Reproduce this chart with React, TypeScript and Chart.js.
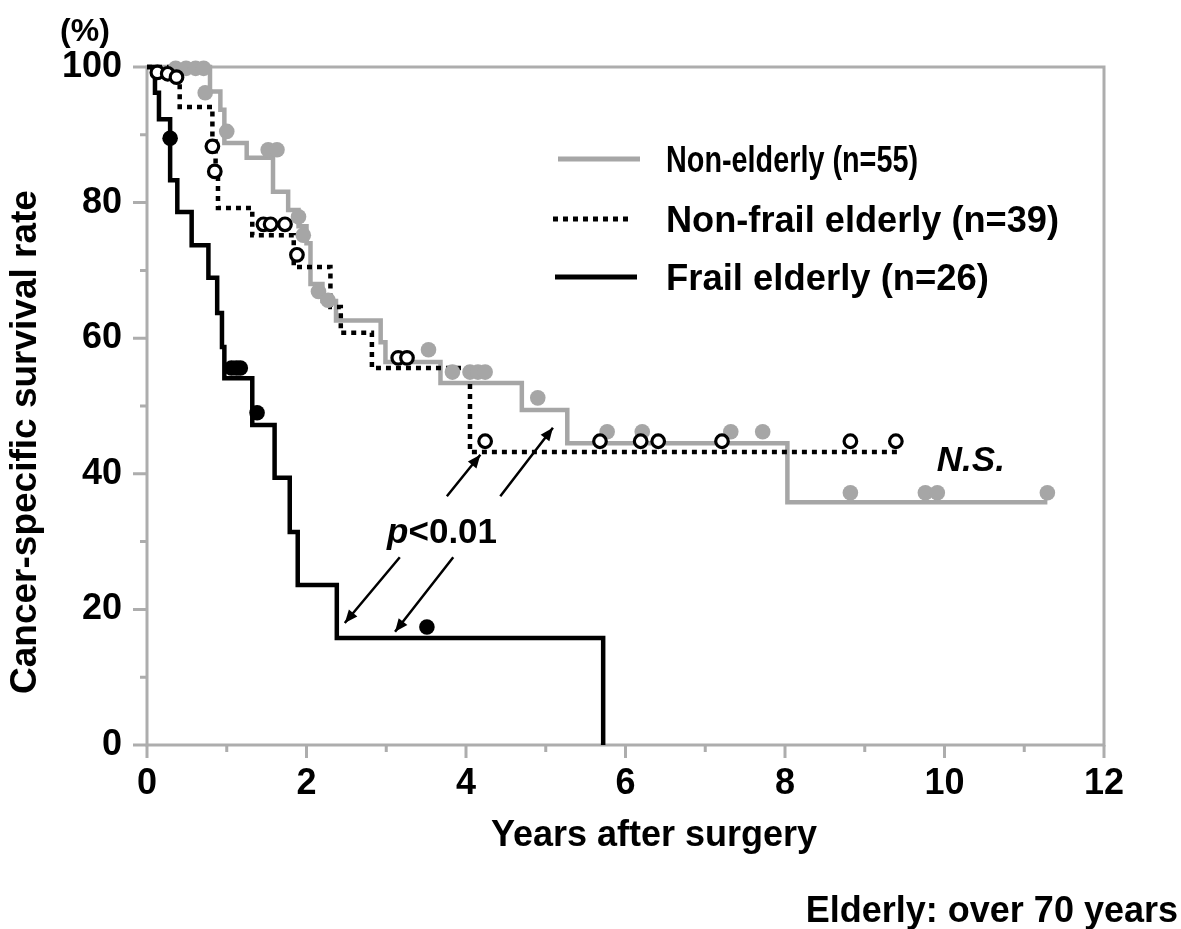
import React, { useEffect, useRef } from "react";
import { Chart, registerables } from "chart.js";

Chart.register(...registerables);

const FONT_FAMILY = '"Liberation Sans", Arial, Helvetica, sans-serif';
const GRAY = "#a6a6a6";
const FRAME = "#adadad";

// ---- Kaplan-Meier step curves (time in years, survival %) ----
const nonElderlyTimes = [0, 0.79, 0.92, 0.97, 1.25, 1.58, 1.77, 1.9, 2.0, 2.05, 2.2, 2.37, 2.93, 2.99, 3.68, 4.7, 5.27, 8.03, 11.29];
const nonElderlySurv = [100, 96.4, 93.7, 88.8, 86.6, 81.6, 78.9, 76.5, 74, 68, 65.5, 62.6, 59.4, 56.5, 53.4, 49.4, 44.5, 35.8, 35.8];

const nonFrailTimes = [0, 0.41, 0.82, 0.86, 0.89, 1.32, 1.84, 2.3, 2.43, 2.82, 4.05, 9.41];
const nonFrailSurv = [100, 94.1, 89, 84, 79.2, 75.2, 70.5, 64.6, 60.8, 55.6, 43.2, 43.2];

const frailTimes = [0, 0.1, 0.15, 0.29, 0.38, 0.56, 0.77, 0.88, 0.94, 0.97, 1.32, 1.6, 1.79, 1.89, 2.38, 5.72];
const frailSurv = [100, 96.2, 92.3, 83.3, 78.6, 73.7, 68.9, 63.7, 58.7, 54.1, 47.2, 39.4, 31.4, 23.6, 15.8, 0];

// ---- Censor marks ----
const nonElderlyCensorT = [0.36, 0.49, 0.61, 0.71, 0.73, 1.0, 1.52, 1.63, 1.9, 1.96, 2.15, 2.27, 3.53, 3.83, 4.05, 4.15, 4.24, 4.9, 5.77, 6.21, 7.32, 7.72, 8.82, 9.76, 9.91, 11.29];
const nonElderlyCensorS = [99.8, 99.8, 99.8, 99.8, 96.2, 90.5, 87.8, 87.8, 77.9, 75.2, 66.9, 65.6, 58.3, 55, 55, 55, 55, 51.2, 46.2, 46.2, 46.2, 46.2, 37.2, 37.2, 37.2, 37.2];

const nonFrailCensorT = [0.13, 0.26, 0.37, 0.82, 0.85, 1.46, 1.55, 1.73, 1.88, 3.15, 3.26, 4.24, 5.68, 6.19, 6.41, 7.21, 8.82, 9.39];
const nonFrailCensorS = [99.2, 99, 98.5, 88.3, 84.6, 76.8, 76.8, 76.8, 72.3, 57.1, 57.1, 44.8, 44.8, 44.8, 44.8, 44.8, 44.8, 44.8];

const frailCensorT = [0.29, 1.06, 1.12, 1.17, 1.38, 3.51];
const frailCensorS = [89.5, 55.6, 55.6, 55.6, 49, 17.4];

// ---- Axes ----
const xTickValues = [0, 2, 4, 6, 8, 10, 12];
const yTickValues = [0, 20, 40, 60, 80, 100];
const xMinorTicks = [1, 3, 5, 7, 9, 11];
const yMinorTicks = [10, 30, 50, 70, 90];

// ---- Labels ----
const legendLabels = ["Non-elderly (n=55)", "Non-frail elderly (n=39)", "Frail elderly (n=26)"];
const xTitle = "Years after surgery";
const yTitle = "Cancer-specific survival rate";
const unitLabel = "(%)";
const footnote = "Elderly: over 70 years";
const pLabelItalic = "p";
const pLabelRest = "<0.01";
const nsLabel = "N.S.";

// annotation anchor points in data units (t, %)
const pLabelPos = [3.7, 31.6];
const nsLabelPos = [10.33, 42.2];
// arrows: [tipLowerT, tipLowerS, gapLowerT, gapLowerS, gapUpperT, gapUpperS, tipUpperT, tipUpperS]
const arrowA = [2.48, 18.0, 3.17, 27.7, 3.76, 36.7, 4.18, 42.8];
const arrowB = [3.11, 16.7, 3.84, 27.7, 4.43, 36.7, 5.09, 46.8];

const toXY = (ts: number[], ss: number[]) => ts.map((t, i) => ({ x: t, y: ss[i] }));

function font(size: number, style = "bold") {
  return `${style} ${size}px ${FONT_FAMILY}`;
}

function drawArrowHead(ctx: CanvasRenderingContext2D, fx: number, fy: number, tx: number, ty: number) {
  const ang = Math.atan2(ty - fy, tx - fx);
  const len = 13;
  const hw = 5.5;
  ctx.beginPath();
  ctx.moveTo(tx, ty);
  ctx.lineTo(tx - len * Math.cos(ang) + hw * Math.sin(ang), ty - len * Math.sin(ang) - hw * Math.cos(ang));
  ctx.lineTo(tx - len * Math.cos(ang) - hw * Math.sin(ang), ty - len * Math.sin(ang) + hw * Math.cos(ang));
  ctx.closePath();
  ctx.fill();
}

function drawSplitArrow(ctx: CanvasRenderingContext2D, xs: any, ys: any, a: number[]) {
  const p = [0, 2, 4, 6].map((i) => [xs.getPixelForValue(a[i]), ys.getPixelForValue(a[i + 1])]);
  ctx.save();
  ctx.strokeStyle = "#000";
  ctx.fillStyle = "#000";
  ctx.lineWidth = 2.5;
  ctx.beginPath();
  ctx.moveTo(p[1][0], p[1][1]);
  ctx.lineTo(p[0][0], p[0][1]);
  ctx.moveTo(p[2][0], p[2][1]);
  ctx.lineTo(p[3][0], p[3][1]);
  ctx.stroke();
  drawArrowHead(ctx, p[1][0], p[1][1], p[0][0], p[0][1]);
  drawArrowHead(ctx, p[2][0], p[2][1], p[3][0], p[3][1]);
  ctx.restore();
}

export default function App() {
  const ref = useRef<HTMLCanvasElement>(null);

  useEffect(() => {
    const canvas = ref.current;
    if (!canvas) return;

    const decor = {
      id: "decor",
      beforeDatasetsDraw(chart: any) {
        const { ctx, chartArea } = chart;
        const xs = chart.scales.x;
        const ys = chart.scales.y;
        ctx.save();
        ctx.strokeStyle = FRAME;
        ctx.lineWidth = 3;
        ctx.strokeRect(chartArea.left, chartArea.top, chartArea.right - chartArea.left, chartArea.bottom - chartArea.top);
        ctx.beginPath();
        xTickValues.forEach((v) => {
          const x = xs.getPixelForValue(v);
          ctx.moveTo(x, chartArea.bottom);
          ctx.lineTo(x, chartArea.bottom + 13);
        });
        xMinorTicks.forEach((v) => {
          const x = xs.getPixelForValue(v);
          ctx.moveTo(x, chartArea.bottom);
          ctx.lineTo(x, chartArea.bottom + 7);
        });
        yTickValues.forEach((v) => {
          const y = ys.getPixelForValue(v);
          ctx.moveTo(chartArea.left, y);
          ctx.lineTo(chartArea.left - 14, y);
        });
        yMinorTicks.forEach((v) => {
          const y = ys.getPixelForValue(v);
          ctx.moveTo(chartArea.left, y);
          ctx.lineTo(chartArea.left - 7, y);
        });
        ctx.stroke();
        ctx.restore();
      },
      afterDraw(chart: any) {
        const { ctx } = chart;
        const xs = chart.scales.x;
        const ys = chart.scales.y;
        ctx.save();
        ctx.fillStyle = "#000";
        ctx.textBaseline = "alphabetic";

        // axis titles
        ctx.font = font(36);
        ctx.textAlign = "center";
        ctx.fillText(xTitle, 654, 846);

        ctx.save();
        ctx.translate(36, 442);
        ctx.rotate(-Math.PI / 2);
        ctx.font = font(37);
        ctx.textAlign = "center";
        ctx.fillText(yTitle, 0, 0);
        ctx.restore();

        ctx.font = font(32);
        ctx.textAlign = "center";
        ctx.fillText(unitLabel, 85, 41);

        ctx.font = font(36);
        ctx.textAlign = "right";
        ctx.fillText(footnote, 1178, 922);

        // legend
        const rows = [
          { y: 159, base: 172, color: GRAY, dash: [] as number[], x1: 558, x2: 640, width: 252 },
          { y: 219, base: 232, color: "#000", dash: [5, 5], x1: 553, x2: 632, width: 393 },
          { y: 277, base: 290, color: "#000", dash: [] as number[], x1: 555, x2: 637, width: 323 },
        ];
        rows.forEach((r, i) => {
          ctx.save();
          ctx.strokeStyle = r.color;
          ctx.lineWidth = 5;
          ctx.lineCap = "butt";
          ctx.setLineDash(r.dash);
          ctx.beginPath();
          ctx.moveTo(r.x1, r.y);
          ctx.lineTo(r.x2, r.y);
          ctx.stroke();
          ctx.restore();
          ctx.save();
          ctx.font = font(36);
          ctx.textAlign = "left";
          const w = ctx.measureText(legendLabels[i]).width;
          const sx = r.width / w;
          ctx.translate(666, r.base);
          ctx.scale(sx, 1);
          ctx.fillText(legendLabels[i], 0, 0);
          ctx.restore();
        });

        // arrows and p-value
        drawSplitArrow(ctx, xs, ys, arrowA);
        drawSplitArrow(ctx, xs, ys, arrowB);

        const px = xs.getPixelForValue(pLabelPos[0]);
        const py = ys.getPixelForValue(pLabelPos[1]);
        ctx.textAlign = "left";
        ctx.font = font(35, "italic bold");
        const wp = ctx.measureText(pLabelItalic).width;
        ctx.font = font(35);
        const wr = ctx.measureText(pLabelRest).width;
        const startX = px - (wp + wr) / 2;
        ctx.font = font(35, "italic bold");
        ctx.fillText(pLabelItalic, startX, py + 12);
        ctx.font = font(35);
        ctx.fillText(pLabelRest, startX + wp, py + 12);

        ctx.font = font(35, "italic bold");
        ctx.textAlign = "center";
        ctx.fillText(nsLabel, xs.getPixelForValue(nsLabelPos[0]), ys.getPixelForValue(nsLabelPos[1]) + 12);

        ctx.restore();
      },
    };

    const lineBase = {
      stepped: true as const,
      pointRadius: 0,
      borderWidth: 4.5,
      fill: false,
      tension: 0,
      clip: false as any,
      borderCapStyle: "butt" as const,
    };

    const chart = new Chart(canvas, {
      type: "line",
      data: {
        datasets: [
          {
            label: "Frail censored",
            data: toXY(frailCensorT, frailCensorS),
            showLine: false,
            pointRadius: 7.8,
            pointBackgroundColor: "#000",
            pointBorderColor: "#000",
            pointBorderWidth: 0,
            clip: false as any,
            order: 1,
          },
          {
            label: "Non-frail censored",
            data: toXY(nonFrailCensorT, nonFrailCensorS),
            showLine: false,
            pointRadius: 6.3,
            pointBackgroundColor: "#fff",
            pointBorderColor: "#000",
            pointBorderWidth: 3.2,
            clip: false as any,
            order: 2,
          },
          {
            label: "Non-elderly censored",
            data: toXY(nonElderlyCensorT, nonElderlyCensorS),
            showLine: false,
            pointRadius: 7.8,
            pointBackgroundColor: GRAY,
            pointBorderColor: GRAY,
            pointBorderWidth: 0,
            clip: false as any,
            order: 3,
          },
          {
            ...lineBase,
            label: legendLabels[2],
            data: toXY(frailTimes, frailSurv),
            borderColor: "#000",
            order: 4,
          },
          {
            ...lineBase,
            label: legendLabels[1],
            data: toXY(nonFrailTimes, nonFrailSurv),
            borderColor: "#000",
            borderDash: [5, 5],
            order: 5,
          },
          {
            ...lineBase,
            label: legendLabels[0],
            data: toXY(nonElderlyTimes, nonElderlySurv),
            borderColor: GRAY,
            order: 6,
          },
        ],
      },
      options: {
        responsive: false,
        animation: false,
        events: [],
        layout: { padding: { top: 67, right: 77, left: 0, bottom: 0 } },
        plugins: {
          legend: { display: false },
          tooltip: { enabled: false },
          title: { display: false },
        },
        scales: {
          x: {
            type: "linear",
            min: 0,
            max: 12,
            afterBuildTicks: (s: any) => {
              s.ticks = xTickValues.map((v) => ({ value: v }));
            },
            afterFit: (s: any) => {
              s.height = 184;
            },
            ticks: {
              color: "#000",
              font: { family: FONT_FAMILY, size: 36, weight: "bold" },
              padding: 9,
              maxRotation: 0,
              autoSkip: false,
            },
            grid: { display: false },
            border: { display: false },
          },
          y: {
            type: "linear",
            min: 0,
            max: 100,
            afterBuildTicks: (s: any) => {
              s.ticks = yTickValues.map((v) => ({ value: v }));
            },
            afterFit: (s: any) => {
              s.width = 147;
            },
            ticks: {
              color: "#000",
              font: { family: FONT_FAMILY, size: 36, weight: "bold" },
              padding: 17,
              autoSkip: false,
            },
            grid: { display: false },
            border: { display: false },
          },
        },
      },
      plugins: [decor],
    });

    return () => chart.destroy();
  }, []);

  return (
    <div style={{ position: "absolute", left: 0, top: 0, width: 1181, height: 929, background: "#fff" }}>
      <canvas ref={ref} width={1181} height={929} style={{ display: "block" }} />
    </div>
  );
}
